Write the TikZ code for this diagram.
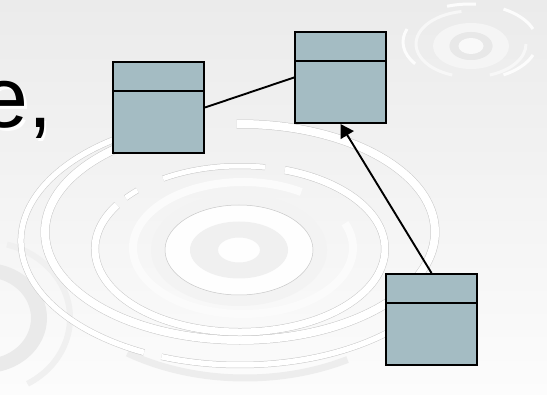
\documentclass[tikz,border=0pt]{standalone}
\usepackage{fontspec}
\setmainfont{Liberation Sans}
\usetikzlibrary{arrows.meta,shadows}
\definecolor{boxfill}{HTML}{A4BCC3}
\definecolor{ringgray}{HTML}{E6E6E6}
\definecolor{edgegray}{HTML}{C8C8C8}
\definecolor{bgtop}{HTML}{EBEBEB}
\definecolor{bgbot}{HTML}{FCFCFC}
% cx cy rx ry a1 a2 innerwidth outerwidth
\newcommand\ringband[8]{%
  \draw[edgegray, line width=#8pt] (#1,#2) ++(#5:#3pt and #4pt) arc[start angle=#5, end angle=#6, x radius=#3pt, y radius=#4pt];
  \draw[white, line width=#7pt] (#1,#2) ++(#5:#3pt and #4pt) arc[start angle=#5, end angle=#6, x radius=#3pt, y radius=#4pt];}
\begin{document}
\begin{tikzpicture}[x=1pt,y=-1pt,
  cls/.style={draw=black, line width=2pt, fill=boxfill, minimum width=91pt, minimum height=91pt, inner sep=0pt,
    general shadow={fill=black!25, shadow xshift=1pt, shadow yshift=-1pt}},
  conn/.style={line width=1.9pt, draw=black},
  divline/.style={line width=2pt, draw=black},
  bigtext/.style={anchor=base east, inner sep=0pt, font=\fontsize{86}{86}\selectfont}]
\useasboundingbox (0,0) rectangle (547,395);
\shade[top color=bgtop, bottom color=bgbot] (0,0) rectangle (547,395);
\begin{scope}
\clip (0,0) rectangle (547,395);
% left-bottom ring system
\fill[ringgray!85, even odd rule] (-15,318) ellipse[x radius=62pt, y radius=55pt] (-15,318) ellipse[x radius=46pt, y radius=41pt];
\draw[ringgray!60, line width=6pt] (-15,318) ++(-60:85pt and 76pt) arc[start angle=-60, end angle=75, x radius=85pt, y radius=76pt];
% faint bottom band
\draw[ringgray!70, line width=7pt] (245,240) ++(235:205pt and 138pt) arc[start angle=235, end angle=300, x radius=205pt, y radius=138pt];
% main ring system
\ringband{240}{241}{219}{124}{105}{244}{5.5}{6.5}
\ringband{240}{241}{219}{124}{249}{318}{5.5}{6.5}
\ringband{240}{232}{195}{108}{128}{451}{8}{9}
\ringband{240}{249}{145}{83}{148}{432}{7}{8}
\ringband{240}{249}{145}{83}{80}{122}{5}{6}
\ringband{240}{249}{145}{83}{135}{142}{5}{6}
\draw[white!80!bgtop, line width=8pt] (243,248) ++(58:110pt and 66pt) arc[start angle=58, end angle=382, x radius=110pt, y radius=66pt];
\fill[ringgray!50, even odd rule] (239,250) ellipse[x radius=88pt, y radius=56pt] (239,250) ellipse[x radius=74pt, y radius=45pt];
\filldraw[fill=white!70!bgbot, draw=edgegray, line width=0.5pt] (239,250) ellipse[x radius=74pt, y radius=45pt];
\fill[ringgray!60, even odd rule] (239,250) ellipse[x radius=49pt, y radius=28.5pt] (239,250) ellipse[x radius=21pt, y radius=12.5pt];
% top-right ring system
\fill[white!50!bgtop, even odd rule] (471,46) ellipse[x radius=38pt, y radius=23pt] (471,46) ellipse[x radius=21.5pt, y radius=14pt];
\fill[ringgray!70!bgtop, even odd rule] (471,46) ellipse[x radius=21.5pt, y radius=14pt] (471,46) ellipse[x radius=12.5pt, y radius=8pt];
\fill[white!70!bgtop] (471,46) ellipse[x radius=12.5pt, y radius=8pt];
\draw[white!60!bgtop, line width=3pt] (471,44) ++(100:55pt and 33pt) arc[start angle=100, end angle=250, x radius=55pt, y radius=33pt];
\draw[white!60!bgtop, line width=3pt] (471,44) ++(290:55pt and 33pt) arc[start angle=290, end angle=360, x radius=55pt, y radius=33pt];
\foreach \a/\b in {20/60, 85/110, 160/215, 300/340}{
  \draw[white!85!bgtop, line width=3pt] (470,42) ++(\a:67pt and 38pt) arc[start angle=\a, end angle=\b, x radius=67pt, y radius=38pt];}
\end{scope}
% text
\node[bigtext, text=white] (txtshadow) at (55.1,130.5) {e,};
\node[bigtext, text=black] (txt) at (52.6,128) {e,};
% classes
\node[cls] (b1) at (158.5,107.5) {};
\node[cls] (b2) at (340.5,77.5) {};
\node[cls] (b3) at (431.5,319.5) {};
\foreach \b in {b1,b2,b3}{
  \draw[divline] ([yshift=-30pt]\b.north west) -- ([yshift=-30pt]\b.north east);}
\draw[conn] (b1.east) -- (b2.west);
\draw[conn, -{Triangle[length=13pt, width=15pt]}] (b3.north) -- (b2.south);
\end{tikzpicture}
\end{document}
